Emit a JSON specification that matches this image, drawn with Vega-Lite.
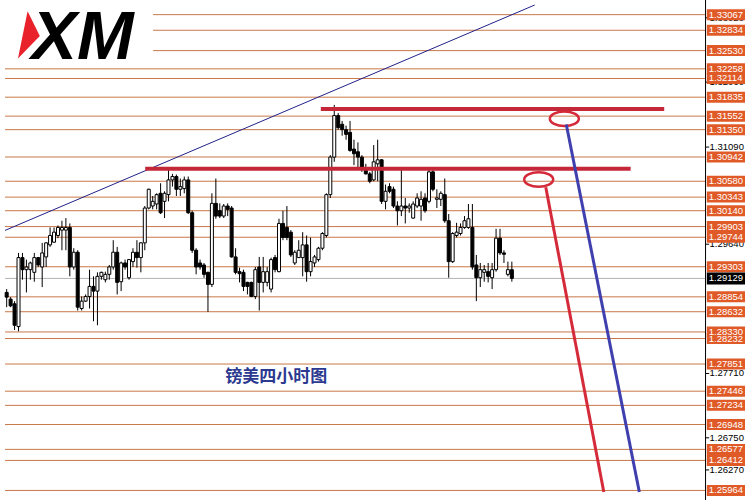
{
  "$schema": "https://vega.github.io/schema/vega-lite/v6.json",
  "width": 750,
  "height": 500,
  "padding": 0,
  "autosize": "none",
  "background": "white",
  "config": {"view": {"stroke": null}},
  "datasets": {
    "candles": [
      {"bar":0,"open":1.2892,"high":1.2897,"low":1.2870,"close":1.2885},
      {"bar":1,"open":1.2882,"high":1.2885,"low":1.2870,"close":1.2872},
      {"bar":2,"open":1.2875,"high":1.2879,"low":1.2836,"close":1.2843},
      {"bar":3,"open":1.2841,"high":1.2951,"low":1.2834,"close":1.2944},
      {"bar":4,"open":1.2944,"high":1.2951,"low":1.2911,"close":1.2926},
      {"bar":5,"open":1.2926,"high":1.2941,"low":1.2892,"close":1.2930},
      {"bar":6,"open":1.2926,"high":1.2938,"low":1.2911,"close":1.2936},
      {"bar":7,"open":1.2922,"high":1.2951,"low":1.2908,"close":1.2944},
      {"bar":8,"open":1.2944,"high":1.2945,"low":1.2930,"close":1.2933},
      {"bar":9,"open":1.2930,"high":1.2966,"low":1.2900,"close":1.2951},
      {"bar":10,"open":1.2945,"high":1.2967,"low":1.2930,"close":1.2966},
      {"bar":11,"open":1.2963,"high":1.2989,"low":1.2960,"close":1.2977},
      {"bar":12,"open":1.2967,"high":1.2989,"low":1.2966,"close":1.2982},
      {"bar":13,"open":1.2977,"high":1.2992,"low":1.2973,"close":1.2989},
      {"bar":14,"open":1.2985,"high":1.2999,"low":1.2955,"close":1.2989},
      {"bar":15,"open":1.2985,"high":1.3003,"low":1.2955,"close":1.2989},
      {"bar":16,"open":1.2989,"high":1.2995,"low":1.2916,"close":1.2930},
      {"bar":17,"open":1.2930,"high":1.2958,"low":1.2926,"close":1.2952},
      {"bar":18,"open":1.2952,"high":1.2955,"low":1.2865,"close":1.2870},
      {"bar":19,"open":1.2868,"high":1.2886,"low":1.2865,"close":1.2879},
      {"bar":20,"open":1.2879,"high":1.2889,"low":1.2878,"close":1.2886},
      {"bar":21,"open":1.2886,"high":1.2926,"low":1.2868,"close":1.2901},
      {"bar":22,"open":1.2901,"high":1.2916,"low":1.2849,"close":1.2894},
      {"bar":23,"open":1.2894,"high":1.2922,"low":1.2843,"close":1.2916},
      {"bar":24,"open":1.2916,"high":1.2923,"low":1.2911,"close":1.2922},
      {"bar":25,"open":1.2911,"high":1.2923,"low":1.2907,"close":1.2919},
      {"bar":26,"open":1.2919,"high":1.2933,"low":1.2911,"close":1.2930},
      {"bar":27,"open":1.2930,"high":1.2970,"low":1.2926,"close":1.2952},
      {"bar":28,"open":1.2952,"high":1.2960,"low":1.2889,"close":1.2907},
      {"bar":29,"open":1.2908,"high":1.2938,"low":1.2894,"close":1.2936},
      {"bar":30,"open":1.2936,"high":1.2941,"low":1.2926,"close":1.2930},
      {"bar":31,"open":1.2914,"high":1.2942,"low":1.2911,"close":1.2941},
      {"bar":32,"open":1.2938,"high":1.2958,"low":1.2930,"close":1.2952},
      {"bar":33,"open":1.2952,"high":1.2970,"low":1.2929,"close":1.2944},
      {"bar":34,"open":1.2944,"high":1.2967,"low":1.2922,"close":1.2966},
      {"bar":35,"open":1.2966,"high":1.3021,"low":1.2955,"close":1.3018},
      {"bar":36,"open":1.3018,"high":1.3047,"low":1.3016,"close":1.3046},
      {"bar":37,"open":1.3021,"high":1.3036,"low":1.3016,"close":1.3028},
      {"bar":38,"open":1.3024,"high":1.3040,"low":1.3016,"close":1.3038},
      {"bar":39,"open":1.3040,"high":1.3055,"low":1.3009,"close":1.3011},
      {"bar":40,"open":1.3028,"high":1.3043,"low":1.3003,"close":1.3040},
      {"bar":41,"open":1.3038,"high":1.3075,"low":1.3028,"close":1.3060},
      {"bar":42,"open":1.3060,"high":1.3069,"low":1.3050,"close":1.3065},
      {"bar":43,"open":1.3065,"high":1.3068,"low":1.3036,"close":1.3046},
      {"bar":44,"open":1.3046,"high":1.3062,"low":1.3036,"close":1.3050},
      {"bar":45,"open":1.3047,"high":1.3065,"low":1.3040,"close":1.3060},
      {"bar":46,"open":1.3060,"high":1.3065,"low":1.3009,"close":1.3011},
      {"bar":47,"open":1.3011,"high":1.3014,"low":1.2951,"close":1.2955},
      {"bar":48,"open":1.2955,"high":1.2958,"low":1.2919,"close":1.2930},
      {"bar":49,"open":1.2936,"high":1.2941,"low":1.2926,"close":1.2930},
      {"bar":50,"open":1.2933,"high":1.2936,"low":1.2914,"close":1.2919},
      {"bar":51,"open":1.2922,"high":1.2923,"low":1.2863,"close":1.2904},
      {"bar":52,"open":1.2904,"high":1.3040,"low":1.2900,"close":1.3025},
      {"bar":53,"open":1.3025,"high":1.3062,"low":1.3002,"close":1.3006},
      {"bar":54,"open":1.3014,"high":1.3025,"low":1.3003,"close":1.3006},
      {"bar":55,"open":1.3006,"high":1.3024,"low":1.3003,"close":1.3021},
      {"bar":56,"open":1.3021,"high":1.3025,"low":1.3006,"close":1.3016},
      {"bar":57,"open":1.3018,"high":1.3021,"low":1.2944,"close":1.2945},
      {"bar":58,"open":1.2945,"high":1.2958,"low":1.2919,"close":1.2922},
      {"bar":59,"open":1.2923,"high":1.2929,"low":1.2907,"close":1.2920},
      {"bar":60,"open":1.2922,"high":1.2926,"low":1.2894,"close":1.2901},
      {"bar":61,"open":1.2907,"high":1.2908,"low":1.2889,"close":1.2901},
      {"bar":62,"open":1.2907,"high":1.2908,"low":1.2885,"close":1.2886},
      {"bar":63,"open":1.2886,"high":1.2930,"low":1.2882,"close":1.2926},
      {"bar":64,"open":1.2930,"high":1.2945,"low":1.2865,"close":1.2907},
      {"bar":65,"open":1.2907,"high":1.2945,"low":1.2892,"close":1.2923},
      {"bar":66,"open":1.2907,"high":1.2930,"low":1.2901,"close":1.2923},
      {"bar":67,"open":1.2897,"high":1.2944,"low":1.2892,"close":1.2941},
      {"bar":68,"open":1.2944,"high":1.2948,"low":1.2922,"close":1.2926},
      {"bar":69,"open":1.2923,"high":1.3002,"low":1.2922,"close":1.2995},
      {"bar":70,"open":1.2995,"high":1.3014,"low":1.2970,"close":1.2974},
      {"bar":71,"open":1.2989,"high":1.3021,"low":1.2970,"close":1.2974},
      {"bar":72,"open":1.2982,"high":1.2985,"low":1.2945,"close":1.2948},
      {"bar":73,"open":1.2936,"high":1.2955,"low":1.2933,"close":1.2952},
      {"bar":74,"open":1.2944,"high":1.2970,"low":1.2944,"close":1.2955},
      {"bar":75,"open":1.2944,"high":1.2982,"low":1.2916,"close":1.2963},
      {"bar":76,"open":1.2963,"high":1.2977,"low":1.2908,"close":1.2923},
      {"bar":77,"open":1.2923,"high":1.2974,"low":1.2916,"close":1.2938},
      {"bar":78,"open":1.2936,"high":1.2948,"low":1.2930,"close":1.2945},
      {"bar":79,"open":1.2941,"high":1.2960,"low":1.2938,"close":1.2958},
      {"bar":80,"open":1.2958,"high":1.2982,"low":1.2955,"close":1.2980},
      {"bar":81,"open":1.2977,"high":1.3040,"low":1.2974,"close":1.3038},
      {"bar":82,"open":1.3038,"high":1.3097,"low":1.3033,"close":1.3094},
      {"bar":83,"open":1.3094,"high":1.3172,"low":1.3087,"close":1.3156},
      {"bar":84,"open":1.3156,"high":1.3160,"low":1.3135,"close":1.3138},
      {"bar":85,"open":1.3143,"high":1.3148,"low":1.3126,"close":1.3135},
      {"bar":86,"open":1.3135,"high":1.3141,"low":1.3120,"close":1.3128},
      {"bar":87,"open":1.3131,"high":1.3148,"low":1.3102,"close":1.3104},
      {"bar":88,"open":1.3106,"high":1.3120,"low":1.3082,"close":1.3099},
      {"bar":89,"open":1.3102,"high":1.3116,"low":1.3077,"close":1.3094},
      {"bar":90,"open":1.3094,"high":1.3097,"low":1.3072,"close":1.3079},
      {"bar":91,"open":1.3077,"high":1.3084,"low":1.3068,"close":1.3069},
      {"bar":92,"open":1.3069,"high":1.3072,"low":1.3055,"close":1.3058},
      {"bar":93,"open":1.3060,"high":1.3112,"low":1.3058,"close":1.3087},
      {"bar":94,"open":1.3084,"high":1.3120,"low":1.3058,"close":1.3090},
      {"bar":95,"open":1.3090,"high":1.3091,"low":1.3024,"close":1.3028},
      {"bar":96,"open":1.3028,"high":1.3053,"low":1.3016,"close":1.3043},
      {"bar":97,"open":1.3050,"high":1.3055,"low":1.3040,"close":1.3043},
      {"bar":98,"open":1.3046,"high":1.3050,"low":1.3018,"close":1.3021},
      {"bar":99,"open":1.3021,"high":1.3028,"low":1.2992,"close":1.3014},
      {"bar":100,"open":1.3014,"high":1.3075,"low":1.3006,"close":1.3021},
      {"bar":101,"open":1.3021,"high":1.3033,"low":1.2995,"close":1.3018},
      {"bar":102,"open":1.3018,"high":1.3025,"low":1.3011,"close":1.3021},
      {"bar":103,"open":1.3003,"high":1.3028,"low":1.3002,"close":1.3024},
      {"bar":104,"open":1.3021,"high":1.3040,"low":1.3018,"close":1.3033},
      {"bar":105,"open":1.3021,"high":1.3043,"low":1.2999,"close":1.3031},
      {"bar":106,"open":1.3033,"high":1.3040,"low":1.3011,"close":1.3014},
      {"bar":107,"open":1.3028,"high":1.3075,"low":1.3025,"close":1.3072},
      {"bar":108,"open":1.3072,"high":1.3075,"low":1.3043,"close":1.3046},
      {"bar":109,"open":1.3031,"high":1.3046,"low":1.3018,"close":1.3033},
      {"bar":110,"open":1.3031,"high":1.3043,"low":1.3021,"close":1.3040},
      {"bar":111,"open":1.3038,"high":1.3062,"low":1.2996,"close":1.2999},
      {"bar":112,"open":1.2999,"high":1.3009,"low":1.2914,"close":1.2938},
      {"bar":113,"open":1.2938,"high":1.2982,"low":1.2936,"close":1.2980},
      {"bar":114,"open":1.2977,"high":1.2996,"low":1.2974,"close":1.2982},
      {"bar":115,"open":1.2980,"high":1.2995,"low":1.2977,"close":1.2989},
      {"bar":116,"open":1.2989,"high":1.3006,"low":1.2987,"close":1.2999},
      {"bar":117,"open":1.2989,"high":1.3024,"low":1.2987,"close":1.3002},
      {"bar":118,"open":1.2989,"high":1.3024,"low":1.2926,"close":1.2930},
      {"bar":119,"open":1.2933,"high":1.2948,"low":1.2879,"close":1.2914},
      {"bar":120,"open":1.2914,"high":1.2936,"low":1.2900,"close":1.2926},
      {"bar":121,"open":1.2922,"high":1.2933,"low":1.2908,"close":1.2926},
      {"bar":122,"open":1.2923,"high":1.2936,"low":1.2907,"close":1.2916},
      {"bar":123,"open":1.2914,"high":1.2936,"low":1.2897,"close":1.2926},
      {"bar":124,"open":1.2926,"high":1.2987,"low":1.2923,"close":1.2973},
      {"bar":125,"open":1.2973,"high":1.2987,"low":1.2948,"close":1.2951},
      {"bar":126,"open":1.2951,"high":1.2955,"low":1.2936,"close":1.2949},
      {"bar":127,"open":1.2919,"high":1.2938,"low":1.2916,"close":1.2926},
      {"bar":128,"open":1.2926,"high":1.2938,"low":1.2908,"close":1.2913}
    ],
    "levels": [
      {"price":1.33067,"from":37.1},
      {"price":1.32834,"from":37.1},
      {"price":1.32530,"from":37.1},
      {"price":1.32258,"from":-0.425},
      {"price":1.32114,"from":-0.425},
      {"price":1.31835,"from":-0.425},
      {"price":1.31552,"from":-0.425},
      {"price":1.31350,"from":-0.425},
      {"price":1.30942,"from":-0.425},
      {"price":1.30580,"from":-0.425},
      {"price":1.30343,"from":-0.425},
      {"price":1.30140,"from":-0.425},
      {"price":1.29903,"from":-0.425},
      {"price":1.29744,"from":-0.425},
      {"price":1.29303,"from":-0.425},
      {"price":1.28854,"from":-0.425},
      {"price":1.28632,"from":-0.425},
      {"price":1.28330,"from":-0.425},
      {"price":1.28232,"from":-0.425},
      {"price":1.27851,"from":-0.425},
      {"price":1.27446,"from":-0.425},
      {"price":1.27234,"from":-0.425},
      {"price":1.26948,"from":-0.425},
      {"price":1.26577,"from":-0.425},
      {"price":1.26412,"from":-0.425},
      {"price":1.25964,"from":-0.425}
    ],
    "current": [{"price":1.29129}],
    "ticks": [
      {"price":1.33020},{"price":1.32060},{"price":1.31090},{"price":1.29640},
      {"price":1.27710},{"price":1.26750},{"price":1.26270}
    ],
    "trend": [{"bar":-0.425,"price":1.29846,"bar2":133.8,"price2":1.33211}],
    "resistance": [
      {"price":1.31660,"from":79.6,"to":166.6},
      {"price":1.30768,"from":35.1,"to":158.1}
    ],
    "circles": [
      {"bar":141.3,"price":1.31514},
      {"bar":134.8,"price":1.30607}
    ],
    "redpath": [{"bar":136.6,"price":1.30490,"bar2":151.3,"price2":1.25940}],
    "bluepath": [{"bar":141.8,"price":1.31426,"bar2":160.3,"price2":1.25940}],
    "caption": [{"bar":68.3,"price":1.27652,"text":"镑美四小时图"}],
    "logo": [{"bar":5.6,"price":1.32758,"base":1.32406,"textbar":6.3,"text":"XM"}]
  },
  "layer": [
    {
      "data": {"name": "levels"},
      "mark": {"type": "rule", "color": "#c87848", "strokeWidth": 1},
      "encoding": {
        "x": {"field": "from", "type": "quantitative", "scale": {"domain": [-0.425, 187.075], "nice": false, "zero": false}, "axis": null},
        "x2": {"datum": 177.075},
        "y": {"field": "price", "type": "quantitative", "scale": {"domain": [1.25896, 1.33211], "nice": false, "zero": false}, "axis": null}
      }
    },
    {
      "data": {"name": "current"},
      "mark": {"type": "rule", "color": "#b4b4b4", "strokeWidth": 1},
      "encoding": {
        "x": {"datum": -0.425, "type": "quantitative"},
        "x2": {"datum": 177.075},
        "y": {"field": "price", "type": "quantitative"}
      }
    },
    {
      "data": {"name": "trend"},
      "mark": {"type": "rule", "color": "#22228a", "strokeWidth": 1},
      "encoding": {
        "x": {"field": "bar", "type": "quantitative"},
        "x2": {"field": "bar2"},
        "y": {"field": "price", "type": "quantitative"},
        "y2": {"field": "price2"}
      }
    },
    {
      "data": {"name": "candles"},
      "mark": {"type": "rule", "color": "black", "strokeWidth": 1},
      "encoding": {
        "x": {"field": "bar", "type": "quantitative"},
        "y": {"field": "low", "type": "quantitative"},
        "y2": {"field": "high"}
      }
    },
    {
      "data": {"name": "candles"},
      "mark": {"type": "bar", "size": 3, "stroke": "black", "strokeWidth": 1},
      "encoding": {
        "x": {"field": "bar", "type": "quantitative"},
        "y": {"field": "open", "type": "quantitative"},
        "y2": {"field": "close"},
        "fill": {"condition": {"test": "datum.close > datum.open", "value": "white"}, "value": "black"}
      }
    },
    {
      "data": {"name": "resistance"},
      "mark": {"type": "rule", "color": "#c42838", "strokeWidth": 4},
      "encoding": {
        "x": {"field": "from", "type": "quantitative"},
        "x2": {"field": "to"},
        "y": {"field": "price", "type": "quantitative"}
      }
    },
    {
      "data": {"name": "circles"},
      "mark": {"type": "point", "shape": "M -1 0 A 1 0.5 0 1 1 1 0 A 1 0.5 0 1 1 -1 0 Z", "size": 841, "filled": false, "stroke": "#d42a3a", "strokeWidth": 2.5, "opacity": 1},
      "encoding": {
        "x": {"field": "bar", "type": "quantitative"},
        "y": {"field": "price", "type": "quantitative"}
      }
    },
    {
      "data": {"name": "redpath"},
      "mark": {"type": "rule", "color": "#d42a3a", "strokeWidth": 3},
      "encoding": {
        "x": {"field": "bar", "type": "quantitative"},
        "x2": {"field": "bar2"},
        "y": {"field": "price", "type": "quantitative"},
        "y2": {"field": "price2"}
      }
    },
    {
      "data": {"name": "bluepath"},
      "mark": {"type": "rule", "color": "#3f3fae", "strokeWidth": 3},
      "encoding": {
        "x": {"field": "bar", "type": "quantitative"},
        "x2": {"field": "bar2"},
        "y": {"field": "price", "type": "quantitative"},
        "y2": {"field": "price2"}
      }
    },
    {
      "data": {"values": [{}]},
      "mark": {"type": "rule", "color": "black", "strokeWidth": 1},
      "encoding": {
        "x": {"datum": 177.075, "type": "quantitative"}
      }
    },
    {
      "data": {"name": "ticks"},
      "mark": {"type": "rule", "color": "black", "strokeWidth": 1},
      "encoding": {
        "x": {"datum": 177.1, "type": "quantitative"},
        "x2": {"datum": 178.0},
        "y": {"field": "price", "type": "quantitative"}
      }
    },
    {
      "data": {"name": "ticks"},
      "mark": {"type": "text", "align": "left", "baseline": "middle", "font": "Liberation Sans", "fontSize": 9.5, "color": "black"},
      "encoding": {
        "x": {"datum": 178.1, "type": "quantitative"},
        "y": {"field": "price", "type": "quantitative"},
        "text": {"field": "price", "type": "quantitative", "format": ".5f"}
      }
    },
    {
      "data": {"name": "levels"},
      "mark": {"type": "bar", "size": 11, "color": "#e05a28"},
      "encoding": {
        "x": {"datum": 177.4, "type": "quantitative"},
        "x2": {"datum": 187.075},
        "y": {"field": "price", "type": "quantitative"}
      }
    },
    {
      "data": {"name": "levels"},
      "mark": {"type": "text", "align": "left", "baseline": "middle", "font": "Liberation Sans", "fontSize": 9.5, "color": "white"},
      "encoding": {
        "x": {"datum": 177.9, "type": "quantitative"},
        "y": {"field": "price", "type": "quantitative"},
        "text": {"field": "price", "type": "quantitative", "format": ".5f"}
      }
    },
    {
      "data": {"name": "current"},
      "mark": {"type": "bar", "size": 12, "color": "black"},
      "encoding": {
        "x": {"datum": 177.4, "type": "quantitative"},
        "x2": {"datum": 187.075},
        "y": {"field": "price", "type": "quantitative"}
      }
    },
    {
      "data": {"name": "current"},
      "mark": {"type": "text", "align": "left", "baseline": "middle", "font": "Liberation Sans", "fontSize": 9.5, "color": "white"},
      "encoding": {
        "x": {"datum": 177.9, "type": "quantitative"},
        "y": {"field": "price", "type": "quantitative"},
        "text": {"field": "price", "type": "quantitative", "format": ".5f"}
      }
    },
    {
      "data": {"name": "caption"},
      "mark": {"type": "text", "align": "center", "baseline": "middle", "font": "Noto Sans CJK SC", "fontSize": 17, "fontWeight": "bold", "color": "#2b3990"},
      "encoding": {
        "x": {"field": "bar", "type": "quantitative"},
        "y": {"field": "price", "type": "quantitative"},
        "text": {"field": "text"}
      }
    },
    {
      "data": {"name": "logo"},
      "mark": {"type": "point", "shape": "M -0.05 -1 L 0.46 0.03 L -0.45 0.97 Z", "size": 2304, "filled": true, "color": "#e8212b", "opacity": 1},
      "encoding": {
        "x": {"field": "bar", "type": "quantitative"},
        "y": {"field": "price", "type": "quantitative"}
      }
    },
    {
      "data": {"name": "logo"},
      "mark": {"type": "text", "align": "left", "baseline": "alphabetic", "font": "Liberation Sans", "fontSize": 68, "fontWeight": "bold", "fontStyle": "italic", "color": "black"},
      "encoding": {
        "x": {"field": "textbar", "type": "quantitative"},
        "y": {"field": "base", "type": "quantitative"},
        "text": {"field": "text"}
      }
    }
  ]
}
